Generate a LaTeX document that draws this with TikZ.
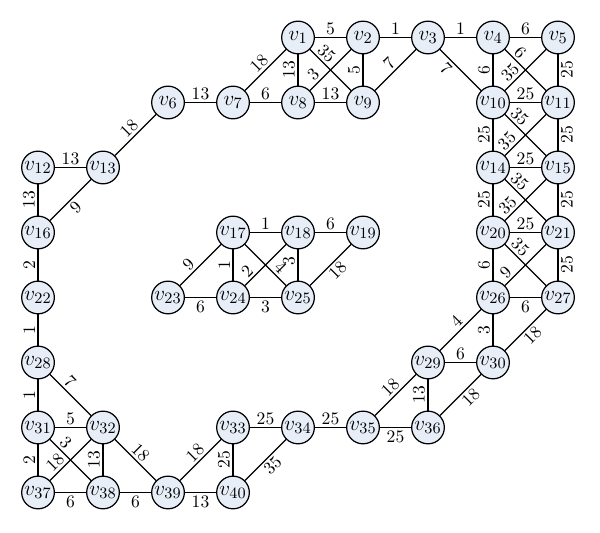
\documentclass[tikz,border=0pt]{standalone}
\begin{document}
\begin{tikzpicture}[x=1.3cm,y=-1.3cm,
  vtx/.style={circle,draw=black,line width=0.7pt,fill=nodefill,minimum size=18.6pt,inner sep=0pt,font=\fontsize{12.5}{14}\selectfont},
  lab/.style={font=\fontsize{10}{12}\selectfont,inner sep=1.3pt,sloped},
  edg/.style={line width=0.7pt}]
\definecolor{nodefill}{RGB}{232,238,248}
\useasboundingbox (-0.585,-0.577) rectangle (8.646,7.623);
% nodes
\node[vtx] (v1) at (4,0) {$v_{1}$};
\node[vtx] (v2) at (5,0) {$v_{2}$};
\node[vtx] (v3) at (6,0) {$v_{3}$};
\node[vtx] (v4) at (7,0) {$v_{4}$};
\node[vtx] (v5) at (8,0) {$v_{5}$};
\node[vtx] (v6) at (2,1) {$v_{6}$};
\node[vtx] (v7) at (3,1) {$v_{7}$};
\node[vtx] (v8) at (4,1) {$v_{8}$};
\node[vtx] (v9) at (5,1) {$v_{9}$};
\node[vtx] (v10) at (7,1) {$v_{10}$};
\node[vtx] (v11) at (8,1) {$v_{11}$};
\node[vtx] (v12) at (0,2) {$v_{12}$};
\node[vtx] (v13) at (1,2) {$v_{13}$};
\node[vtx] (v14) at (7,2) {$v_{14}$};
\node[vtx] (v15) at (8,2) {$v_{15}$};
\node[vtx] (v16) at (0,3) {$v_{16}$};
\node[vtx] (v17) at (3,3) {$v_{17}$};
\node[vtx] (v18) at (4,3) {$v_{18}$};
\node[vtx] (v19) at (5,3) {$v_{19}$};
\node[vtx] (v20) at (7,3) {$v_{20}$};
\node[vtx] (v21) at (8,3) {$v_{21}$};
\node[vtx] (v22) at (0,4) {$v_{22}$};
\node[vtx] (v23) at (2,4) {$v_{23}$};
\node[vtx] (v24) at (3,4) {$v_{24}$};
\node[vtx] (v25) at (4,4) {$v_{25}$};
\node[vtx] (v26) at (7,4) {$v_{26}$};
\node[vtx] (v27) at (8,4) {$v_{27}$};
\node[vtx] (v28) at (0,5) {$v_{28}$};
\node[vtx] (v29) at (6,5) {$v_{29}$};
\node[vtx] (v30) at (7,5) {$v_{30}$};
\node[vtx] (v31) at (0,6) {$v_{31}$};
\node[vtx] (v32) at (1,6) {$v_{32}$};
\node[vtx] (v33) at (3,6) {$v_{33}$};
\node[vtx] (v34) at (4,6) {$v_{34}$};
\node[vtx] (v35) at (5,6) {$v_{35}$};
\node[vtx] (v36) at (6,6) {$v_{36}$};
\node[vtx] (v37) at (0,7) {$v_{37}$};
\node[vtx] (v38) at (1,7) {$v_{38}$};
\node[vtx] (v39) at (2,7) {$v_{39}$};
\node[vtx] (v40) at (3,7) {$v_{40}$};
% horizontal edges, label above
\draw[edg] (v1) -- node[lab,above]{5} (v2);
\draw[edg] (v2) -- node[lab,above]{1} (v3);
\draw[edg] (v3) -- node[lab,above]{1} (v4);
\draw[edg] (v4) -- node[lab,above]{6} (v5);
\draw[edg] (v6) -- node[lab,above]{13} (v7);
\draw[edg] (v7) -- node[lab,above]{6} (v8);
\draw[edg] (v8) -- node[lab,above]{13} (v9);
\draw[edg] (v10) -- node[lab,above]{25} (v11);
\draw[edg] (v12) -- node[lab,above]{13} (v13);
\draw[edg] (v14) -- node[lab,above]{25} (v15);
\draw[edg] (v20) -- node[lab,above]{25} (v21);
\draw[edg] (v17) -- node[lab,above]{1} (v18);
\draw[edg] (v18) -- node[lab,above]{6} (v19);
\draw[edg] (v29) -- node[lab,above]{6} (v30);
\draw[edg] (v31) -- node[lab,above]{5} (v32);
\draw[edg] (v33) -- node[lab,above]{25} (v34);
\draw[edg] (v34) -- node[lab,above]{25} (v35);
% horizontal edges, label below
\draw[edg] (v26) -- node[lab,below]{6} (v27);
\draw[edg] (v23) -- node[lab,below]{6} (v24);
\draw[edg] (v24) -- node[lab,below]{3} (v25);
\draw[edg] (v35) -- node[lab,below]{25} (v36);
\draw[edg] (v37) -- node[lab,below]{6} (v38);
\draw[edg] (v38) -- node[lab,below]{6} (v39);
\draw[edg] (v39) -- node[lab,below]{13} (v40);
% vertical edges, label left
\draw[edg] (v8) -- node[lab,above]{13} (v1);
\draw[edg] (v9) -- node[lab,above]{5} (v2);
\draw[edg] (v10) -- node[lab,above]{6} (v4);
\draw[edg] (v14) -- node[lab,above]{25} (v10);
\draw[edg] (v20) -- node[lab,above]{25} (v14);
\draw[edg] (v26) -- node[lab,above]{6} (v20);
\draw[edg] (v30) -- node[lab,above]{3} (v26);
\draw[edg] (v36) -- node[lab,above]{13} (v29);
\draw[edg] (v40) -- node[lab,above]{25} (v33);
\draw[edg] (v38) -- node[lab,above]{13} (v32);
\draw[edg] (v37) -- node[lab,above]{2} (v31);
\draw[edg] (v31) -- node[lab,above]{1} (v28);
\draw[edg] (v28) -- node[lab,above]{1} (v22);
\draw[edg] (v22) -- node[lab,above]{2} (v16);
\draw[edg] (v16) -- node[lab,above]{13} (v12);
\draw[edg] (v24) -- node[lab,above]{1} (v17);
\draw[edg] (v25) -- node[lab,above,pos=0.62]{3} (v18);
% vertical edges, label right
\draw[edg] (v11) -- node[lab,below]{25} (v5);
\draw[edg] (v15) -- node[lab,below]{25} (v11);
\draw[edg] (v21) -- node[lab,below]{25} (v15);
\draw[edg] (v27) -- node[lab,below]{25} (v21);
% diagonal edges
\draw[edg] (v7) -- node[lab,above]{18} (v1);
\draw[edg] (v1) -- node[lab,above,pos=0.25]{35} (v9);
\draw[edg] (v8) -- node[lab,above,pos=0.23]{3} (v2);
\draw[edg] (v9) -- node[lab,above]{7} (v3);
\draw[edg] (v3) -- node[lab,below,pos=0.3]{7} (v10);
\draw[edg] (v4) -- node[lab,above,pos=0.22]{6} (v11);
\draw[edg] (v10) -- node[lab,above,pos=0.28]{35} (v5);
\draw[edg] (v10) -- node[lab,above,pos=0.2]{35} (v15);
\draw[edg] (v14) -- node[lab,above,pos=0.2]{35} (v11);
\draw[edg] (v14) -- node[lab,above,pos=0.2]{35} (v21);
\draw[edg] (v20) -- node[lab,above,pos=0.22]{35} (v15);
\draw[edg] (v20) -- node[lab,above,pos=0.22]{35} (v27);
\draw[edg] (v26) -- node[lab,above,pos=0.17]{9} (v21);
\draw[edg] (v29) -- node[lab,above,pos=0.55]{4} (v26);
\draw[edg] (v30) -- node[lab,below,pos=0.52]{18} (v27);
\draw[edg] (v36) -- node[lab,below,pos=0.6]{18} (v30);
\draw[edg] (v35) -- node[lab,above,pos=0.53]{18} (v29);
\draw[edg] (v40) -- node[lab,below,pos=0.52]{35} (v34);
\draw[edg] (v39) -- node[lab,above,pos=0.52]{18} (v33);
\draw[edg] (v32) -- node[lab,above,pos=0.47]{18} (v39);
\draw[edg] (v28) -- node[lab,above,pos=0.33]{7} (v32);
\draw[edg] (v31) -- node[lab,above,pos=0.23]{3} (v38);
\draw[edg] (v37) -- node[lab,above,pos=0.28]{18} (v32);
\draw[edg] (v16) -- node[lab,below,pos=0.47]{9} (v13);
\draw[edg] (v13) -- node[lab,above,pos=0.5]{18} (v6);
\draw[edg] (v23) -- node[lab,above,pos=0.36]{9} (v17);
\draw[edg] (v17) -- node[lab,above,pos=0.72]{4} (v25);
\draw[edg] (v24) -- node[lab,above,pos=0.2]{2} (v18);
\draw[edg] (v25) -- node[lab,below,pos=0.52]{18} (v19);
\end{tikzpicture}
\end{document}
